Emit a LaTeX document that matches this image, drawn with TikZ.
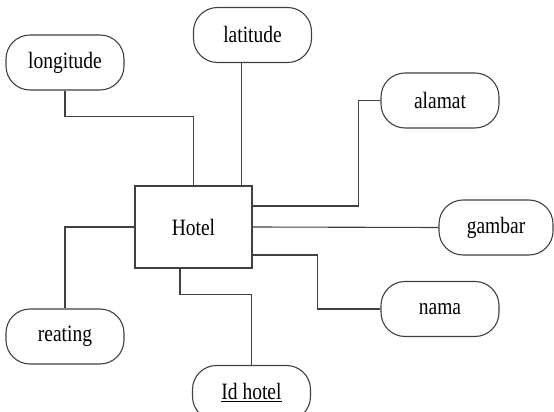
\documentclass[tikz,border=0pt]{standalone}
\usepackage{fontspec}
\setmainfont{Liberation Serif}
\usepackage{tikz}
\usetikzlibrary{positioning, calc}

% text in the scan is a little taller than wide
\newcommand{\lbl}[1]{\scalebox{1}[1.2]{#1}}

\begin{document}
\begin{tikzpicture}[
    x=1pt, y=1pt,
    line width=1.1pt, draw=black!75,
    entity/.style={draw, minimum width=117pt, minimum height=82pt,
                   font=\fontsize{19.5}{24}\selectfont},
    attr/.style={draw, rounded corners=24pt, minimum width=118pt, minimum height=55pt,
                 font=\fontsize{19.5}{24}\selectfont},
    link/.style={black!75, line width=1.1pt},
]
\useasboundingbox (0,0) rectangle (554,412);

\node[entity] (hotel) at (193.5,185) {\lbl{Hotel}};

\node[attr] (longitude) at (65,349.5) {\lbl{longitude}};
\node[attr] (latitude) at (252.5,377) {\lbl{latitude}};
\node[attr] (alamat) at (440,311.5) {\lbl{alamat}};
\node[attr, minimum width=114pt] (gambar) at (496,184.5) {\lbl{gambar}};
\node[attr] (nama) at (440,103) {\lbl{nama}};
\node[attr] (reating) at (65,75.5) {\lbl{reating}};
\node[attr] (idhotel) at (251.5,19) {\lbl{\underline{Id hotel}}};

\draw[link] (longitude.south) -- ++(0,-26) -| (hotel.north);
\draw[link] ([xshift=-11pt]hotel.north east) -- ([xshift=-11pt]hotel.north east |- latitude.south);
\draw[link] (alamat.west) -| ($(hotel.east)+(106,21)$) -- ([yshift=21pt]hotel.east);
\draw[link] (hotel.east) -- (gambar.west);
\draw[link] ([yshift=-28pt]hotel.east) -- ++(65,0) |- (nama.west);
\draw[link] (hotel.west) -| (reating.north);
\draw[link] ([xshift=-13.5pt]hotel.south) -- ++(0,-26) -| (idhotel.north);

\end{tikzpicture}
\end{document}
